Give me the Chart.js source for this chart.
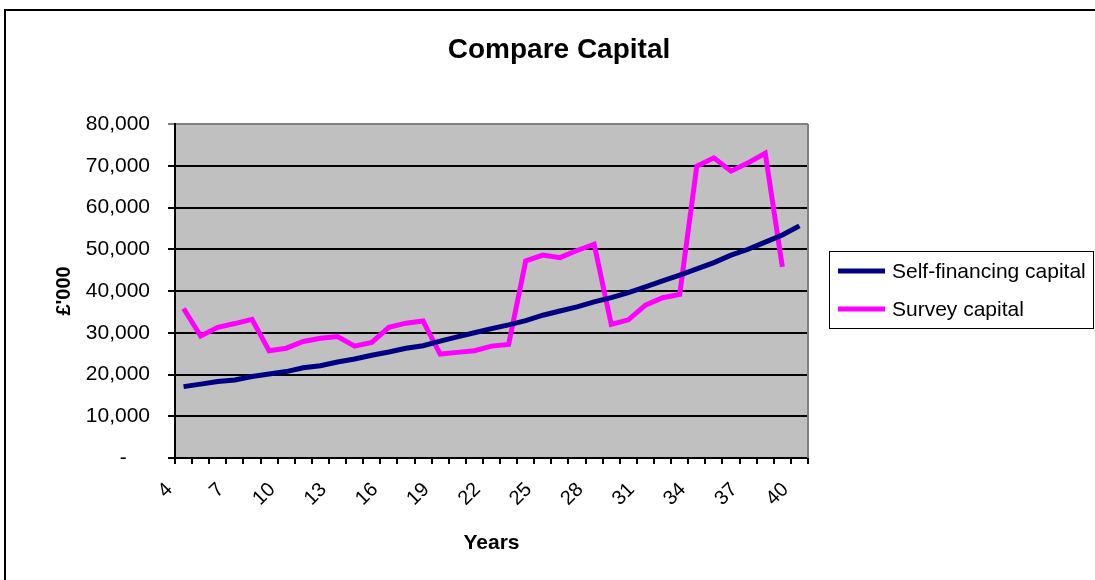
<!DOCTYPE html>
<html>
<head>
<meta charset="utf-8">
<script src="https://cdn.jsdelivr.net/npm/chart.js@4/dist/chart.umd.min.js"></script>
<style>
  html, body { margin: 0; padding: 0; background: #fff; }
  canvas { display: block; }
</style>
</head>
<body>
<canvas id="chart" width="1095" height="580"></canvas>
<script>
// Years on the horizontal axis
const years = [4, 5, 6, 7, 8, 9, 10, 11, 12, 13, 14, 15, 16, 17, 18, 19, 20, 21, 22,
               23, 24, 25, 26, 27, 28, 29, 30, 31, 32, 33, 34, 35, 36, 37, 38, 39, 40];

// Capital, £'000
const selfFinancing = [17100, 17700, 18300, 18700, 19500, 20100, 20700, 21600, 22100, 23000,
                       23700, 24600, 25400, 26300, 26900, 28000, 29000, 30000, 31000, 31900,
                       32900, 34200, 35200, 36200, 37400, 38400, 39600, 41000, 42400, 43800,
                       45300, 46800, 48600, 50000, 51700, 53400, 55600];
const survey = [35800, 29200, 31300, 32200, 33200, 25700, 26300, 27900, 28700, 29100,
                26800, 27700, 31300, 32300, 32800, 24900, 25300, 25700, 26800, 27200,
                47200, 48600, 48000, 49700, 51200, 32000, 33100, 36600, 38400, 39200,
                69900, 71900, 68700, 70700, 73000, 45800, null];

const seriesNames = ['Self-financing capital', 'Survey capital'];
const chartTitle = 'Compare Capital';
const xTitle = 'Years';
const yTitle = "£'000";

const FONT = "'Liberation Sans', Arial, sans-serif";

// Frame, plot background, plot border, title and boxed legend
const decorations = {
  id: 'decorations',
  beforeDraw(chart) {
    const { ctx, chartArea: a } = chart;
    ctx.save();
    ctx.fillStyle = '#fff';
    ctx.fillRect(0, 0, chart.width, chart.height);
    ctx.strokeStyle = '#000';
    ctx.lineWidth = 2;
    ctx.strokeRect(5, 10, chart.width + 20, chart.height + 20);
    ctx.fillStyle = '#c0c0c0';
    ctx.fillRect(a.left, a.top, a.right - a.left, a.bottom - a.top);
    ctx.restore();
  },
  afterDraw(chart) {
    const { ctx, chartArea: a } = chart;
    ctx.save();
    // right edge of plot
    ctx.strokeStyle = '#808080';
    ctx.lineWidth = 2;
    ctx.beginPath();
    ctx.moveTo(a.right, a.top);
    ctx.lineTo(a.right, a.bottom);
    ctx.stroke();

    // title
    ctx.fillStyle = '#000';
    ctx.font = 'bold 28px ' + FONT;
    ctx.textAlign = 'center';
    ctx.textBaseline = 'middle';
    ctx.fillText(chartTitle, 559, 50);

    // legend box
    const lx = 829, ly = 251, lw = 264, lh = 77;
    ctx.fillStyle = '#fff';
    ctx.fillRect(lx, ly, lw, lh);
    ctx.strokeStyle = '#000';
    ctx.lineWidth = 1;
    ctx.strokeRect(lx + 0.5, ly + 0.5, lw, lh);
    ctx.font = '21px ' + FONT;
    ctx.textAlign = 'left';
    chart.data.datasets.forEach((ds, i) => {
      const y = ly + 20 + i * 38;
      ctx.strokeStyle = ds.borderColor;
      ctx.lineWidth = 5;
      ctx.beginPath();
      ctx.moveTo(838, y);
      ctx.lineTo(885, y);
      ctx.stroke();
      ctx.fillStyle = '#000';
      ctx.fillText(ds.label, 892, y + 1);
    });
    ctx.restore();
  }
};

new Chart(document.getElementById('chart'), {
  type: 'line',
  data: {
    labels: years,
    datasets: [
      { label: seriesNames[0], data: selfFinancing, borderColor: '#000080', borderWidth: 5,
        pointRadius: 0, tension: 0, fill: false },
      { label: seriesNames[1], data: survey, borderColor: '#ff00ff', borderWidth: 5,
        pointRadius: 0, tension: 0, fill: false, spanGaps: false }
    ]
  },
  options: {
    responsive: false,
    animation: false,
    devicePixelRatio: 1,
    layout: { padding: { top: 124, right: 287, left: 48, bottom: 24 } },
    plugins: {
      legend: { display: false },
      title: { display: false },
      tooltip: { enabled: false }
    },
    scales: {
      x: {
        offset: true,
        grid: { offset: true, drawOnChartArea: false, drawTicks: true, tickLength: 6,
                color: '#000', lineWidth: 2 },
        border: { display: true, color: '#000', width: 2 },
        ticks: {
          autoSkip: false, minRotation: 45, maxRotation: 45, padding: 14, labelOffset: -14,
          color: '#000', font: { family: FONT, size: 20 },
          callback: (v, i) => (i % 3 === 0 ? String(years[i]) : '')
        },
        title: { display: true, text: xTitle, color: '#000', padding: { top: 0, bottom: 0 },
                 font: { family: FONT, size: 21, weight: 'bold' } },
        afterFit: (s) => { s.height = 580 - 24 - 458; }
      },
      y: {
        min: 0, max: 80000,
        ticks: {
          stepSize: 10000, padding: 18, color: '#000',
          font: { family: FONT, size: 21 },
          callback: (v) => (v === 0 ? '-\u2007\u2007' : v.toLocaleString('en-US'))
        },
        grid: {
          drawTicks: true, tickLength: 7, lineWidth: 2,
          color: (c) => (c.tick && c.tick.value === 80000 ? '#808080' : '#000')
        },
        border: { display: true, color: '#000', width: 2 },
        title: { display: true, text: yTitle, color: '#000', padding: { top: 4, bottom: 0 },
                 font: { family: FONT, size: 20, weight: 'bold' } },
        afterFit: (s) => { s.width = 175 - 48; }
      }
    }
  },
  plugins: [decorations]
});
</script>
</body>
</html>
